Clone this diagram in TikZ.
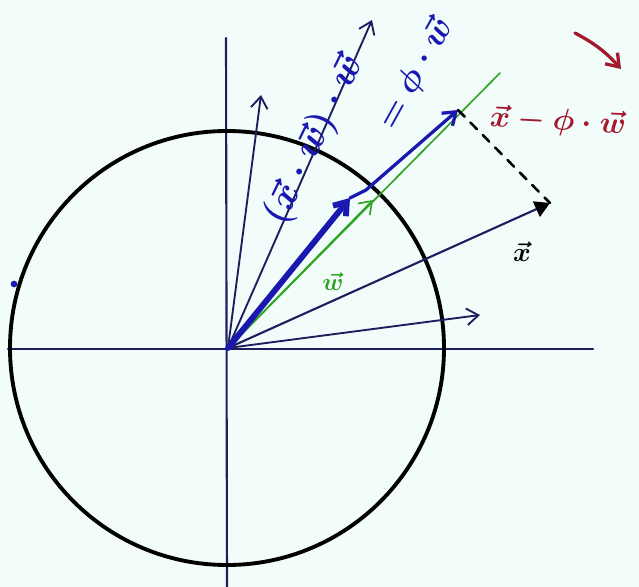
\RequirePackage{fix-cm}
\documentclass[tikz,border=0pt]{standalone}
\usepackage{amsmath,amssymb}
\usepackage{xcolor}
\usetikzlibrary{arrows.meta}
\definecolor{navy}{RGB}{30,30,95}
\definecolor{penblue}{RGB}{25,25,175}
\definecolor{pengreen}{RGB}{45,165,35}
\definecolor{penred}{RGB}{165,25,45}
\definecolor{paper}{RGB}{242,252,251}

\begin{document}
\begin{tikzpicture}[x=0.03cm, y=-0.03cm, line cap=round, line join=round,
    axis/.style={navy, line width=1.8pt},
    vec/.style={navy, line width=1.6pt, ->},
    lbl/.style={inner sep=0pt},
    big/.style={font=\fontsize{#1}{#1}\selectfont\boldmath},
    >={Straight Barb[length=3.5mm, width=5mm]}]
  \fill[paper] (0,0) rectangle (639,587);
  \useasboundingbox (0,0) rectangle (639,587);
  % points
  \coordinate (O) at (228,348);
  \coordinate (xl) at (8,349); \coordinate (xr) at (593,349);
  \coordinate (yt) at (226,38); \coordinate (yb) at (227,587);
  \coordinate (a) at (261,95);
  \coordinate (b) at (372,20);
  \coordinate (c) at (480,315);
  \coordinate (x) at (550,203);
  \coordinate (w) at (373,200);
  \coordinate (wend) at (500,73);
  \coordinate (hook) at (350,198);
  \coordinate (hookend) at (366,190);
  \coordinate (p) at (458,110);
  \coordinate (r1) at (575,33); \coordinate (r2) at (621,69);
  % axes and unit circle
  \draw[axis] (xl) -- (xr);
  \draw[axis] (yt) -- (yb);
  \draw[black, line width=3.3pt] (227,348) circle [radius=6.51cm];
  \fill[penblue] (14,284) circle [radius=0.1cm];
  % vectors
  \draw[vec] (O) -- (a);
  \draw[vec] (O) -- (b);
  \draw[vec] (O) -- (c);
  \draw[navy, line width=1.8pt, -{Triangle[black, length=4.5mm, width=5mm]}] (O) -- (x);
  \draw[pengreen, line width=1.4pt] (O) -- (wend);
  \draw[pengreen, line width=1.4pt, ->] (O) -- (w);
  \draw[penblue, line width=5pt, ->] (O) -- (hook);
  \draw[penblue, line width=2.8pt, ->] (hook) -- (hookend) -- (p);
  \draw[black, line width=2.2pt, dash pattern=on 8pt off 7pt] (p) -- (x);
  \draw[penred, line width=2.8pt, ->] (r1) to[bend left=10] (r2);
  % labels
  \node[lbl, penred, big=26, rotate=-3] (diff) at (558,122) {$\vec{x}-\phi\cdot\vec{w}$};
  \node[lbl, penblue, big=32, rotate=64] (proj1) at (315,140) {$(\vec{x}\cdot\vec{w})\cdot\vec{w}$};
  \node[lbl, penblue, big=29, rotate=61] (proj2) at (416,74) {$=\phi\cdot\vec{w}$};
  \node[lbl, pengreen, big=21] (wlbl) at (333,282) {$\vec{w}$};
  \node[lbl, black, big=23] (xlbl) at (522,252) {$\vec{x}$};
\end{tikzpicture}
\end{document}
